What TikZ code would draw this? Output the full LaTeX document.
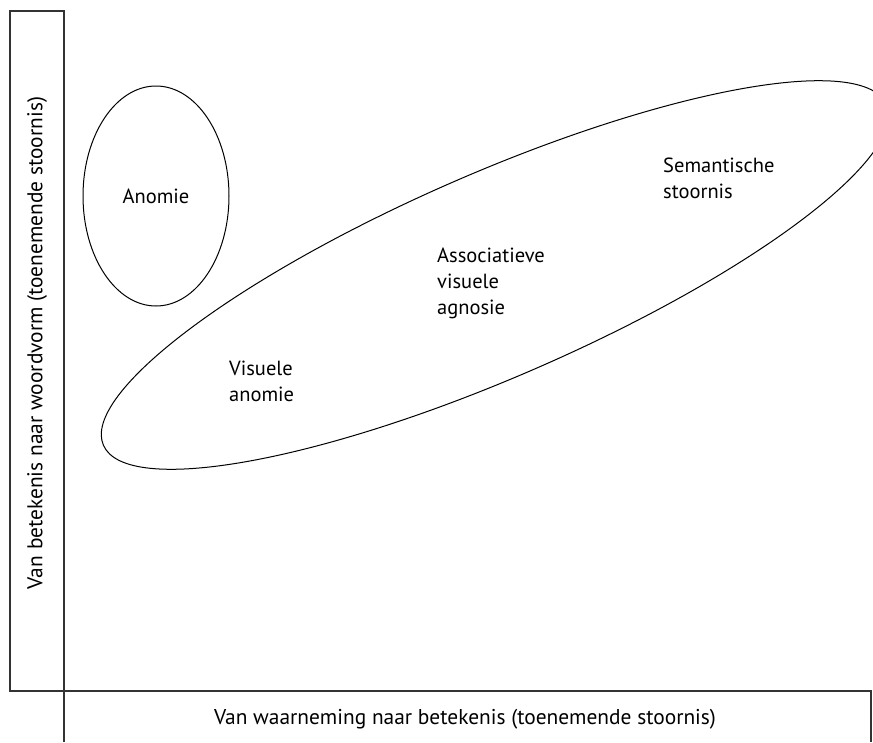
\documentclass[tikz,border=0pt]{standalone}
\usepackage{fontspec}
\setmainfont{PT Sans}
\usetikzlibrary{shapes.geometric}
\begin{document}
\begin{tikzpicture}[x=1pt,y=-1pt,
  axisline/.style={draw=black!80, line width=1.3pt},
  blob/.style={ellipse, draw=black, line width=1pt, inner sep=0pt},
  lbl/.style={inner sep=0pt, align=left, font=\fontsize{20.5}{26}\selectfont},
  axislbl/.style={inner sep=0pt, font=\fontsize{21.4}{24}\selectfont}]
\useasboundingbox (0,0) rectangle (873,742);
\clip (0,0) rectangle (873,742);
% axes
\draw[axisline] (10,11) rectangle (64,691);
\draw[axisline] (64,742) -- (64,691) -- (871,691) -- (871,742);
\node[axislbl, rotate=90] (ylab) at (37,343) {Van betekenis naar woordvorm (toenemende stoornis)};
\node[axislbl] (xlab) at (465,719) {Van waarneming naar betekenis (toenemende stoornis)};
% ellipses
\node[blob, minimum width=146pt, minimum height=220pt] (anomie) at (156,196) {};
\node[lbl] (anomietxt) at (anomie.center) {Anomie};
\node[blob, minimum width=854pt, minimum height=204pt, rotate=23.5] (big) at (495,275) {};
% labels inside big ellipse
\node[lbl, anchor=west] (sem) at (663,178) {Semantische\\stoornis};
\node[lbl, anchor=west] (ass) at (437,283) {Associatieve\\visuele\\agnosie};
\node[lbl, anchor=west] (vis) at (229,381) {Visuele\\anomie};
\end{tikzpicture}
\end{document}
